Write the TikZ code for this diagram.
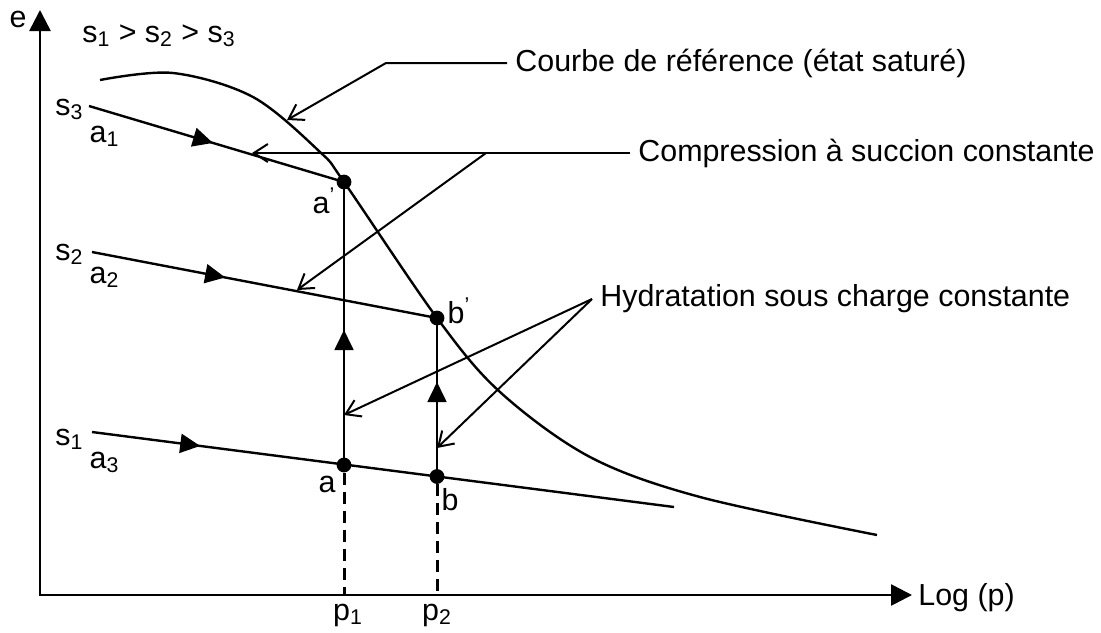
\documentclass[tikz,border=0pt]{standalone}
\usepackage{fontspec}
\setmainfont{Liberation Sans}
\usetikzlibrary{arrows.meta,decorations.markings}

\begin{document}
\begin{tikzpicture}[x=0.5pt, y=-0.5pt,
        every node/.style={font=\fontsize{15.2}{18}\selectfont},
        lbl/.style={anchor=base, inner sep=0pt},
        callout/.style={anchor=west, inner sep=4pt},
        axis/.style={line width=1.3pt, {Triangle[length=10.5pt,width=10.5pt]}-{Triangle[length=10.5pt,width=10.5pt]}},
        flow/.style={line width=1.2pt, postaction={decorate}, decoration={markings, mark=at position #1 with {\arrow{Triangle[length=10pt,width=9.5pt]}}}},
        rise/.style={line width=0.9pt, postaction={decorate}, decoration={markings, mark=at position #1 with {\arrow{Triangle[length=10pt,width=9.5pt]}}}},
        pointer/.style={line width=1pt, -{Straight Barb[length=7pt,width=9pt]}},
        proj/.style={line width=1.5pt, dash pattern=on 6pt off 3.5pt},
        dot/.style={circle, fill, inner sep=0pt, minimum size=7.4pt}
    ]
        \useasboundingbox (0,0) rectangle (1101,632);

        % Axes
        \coordinate (o) at (40,595);
        \coordinate (ytip) at (40,10);
        \coordinate (xtip) at (912,595);
        \draw[axis] (ytip) -- (o) -- (xtip);
        \node[lbl] (e) at (18,27) {e};
        \node[anchor=base west, inner sep=0pt] (logp) at (918,605) {Log (p)};
        \node[lbl] (order) at (159,42) {s\textsubscript{1} > s\textsubscript{2} > s\textsubscript{3}};

        % Reference curve
        \draw[line width=1.2pt] plot[smooth, tension=0.55] coordinates {(100,80) (173,73) (253,97) (320,152) (344,182) (437,318) (500,392) (590,457) (700,497) (877,535)};

        % Points
        \node[dot] (ap) at (344,182) {};
        \node[dot] (bp) at (437,318) {};
        \node[dot] (a) at (344,465) {};
        \node[dot] (b) at (437,476.5) {};

        % Constant suction paths
        \coordinate (s3a) at (89,106);
        \coordinate (s2a) at (92,252);
        \coordinate (s1a) at (92,432);
        \coordinate (s1b) at (674,507);
        \draw[flow=0.486] (s3a) -- (ap.center);
        \draw[flow=0.386] (s2a) -- (bp.center);
        \draw[flow=0.186] (s1a) -- (s1b);

        % Wetting under constant load
        \draw[rise=0.477] (a.center) -- (ap.center);
        \draw[rise=0.596] (b.center) -- (bp.center);

        % Projections
        \coordinate (pa) at (344,595);
        \coordinate (pb) at (437,595);
        \draw[proj] (a) -- (pa);
        \draw[proj] (b) -- (pb);
        \node[lbl] (p1) at (348,620) {p\textsubscript{1}};
        \node[lbl] (p2) at (437,620) {p\textsubscript{2}};

        % Labels
        \node[lbl] (ls3) at (69.5,115) {s\textsubscript{3}};
        \node[lbl] (la1) at (104.5,142) {a\textsubscript{1}};
        \node[lbl] (ls2) at (69.5,260) {s\textsubscript{2}};
        \node[lbl] (la2) at (104.5,283) {a\textsubscript{2}};
        \node[lbl] (ls1) at (69.5,445) {s\textsubscript{1}};
        \node[lbl] (la3) at (104.5,468) {a\textsubscript{3}};
        \node[lbl] (lap) at (324,213) {a\textsuperscript{'}};
        \node[lbl] (lbp) at (459,323) {b\textsuperscript{'}};
        \node[lbl] (la) at (327,492) {a};
        \node[lbl] (lb) at (450,510) {b};

        % Callouts
        \node[callout] (tref) at (507,63) {Courbe de référence (état saturé)};
        \coordinate (kref) at (386,63);
        \coordinate (cref) at (287,120);
        \draw[pointer] (tref.west) -- (kref) -- (cref);

        \node[callout] (tcomp) at (630,153) {Compression à succion constante};
        \coordinate (kcomp) at (486,153);
        \coordinate (ccomp1) at (252,153);
        \coordinate (ccomp2) at (297,290);
        \draw[pointer] (tcomp.west) -- (ccomp1);
        \draw[pointer] (kcomp) -- (ccomp2);

        \node[callout] (thyd) at (592,299) {Hydratation sous charge constante};
        \coordinate (chyd1) at (344,415);
        \coordinate (chyd2) at (437,448);
        \draw[pointer] (thyd.west) -- (chyd1);
        \draw[pointer] (thyd.west) -- (chyd2);
\end{tikzpicture}
\end{document}
